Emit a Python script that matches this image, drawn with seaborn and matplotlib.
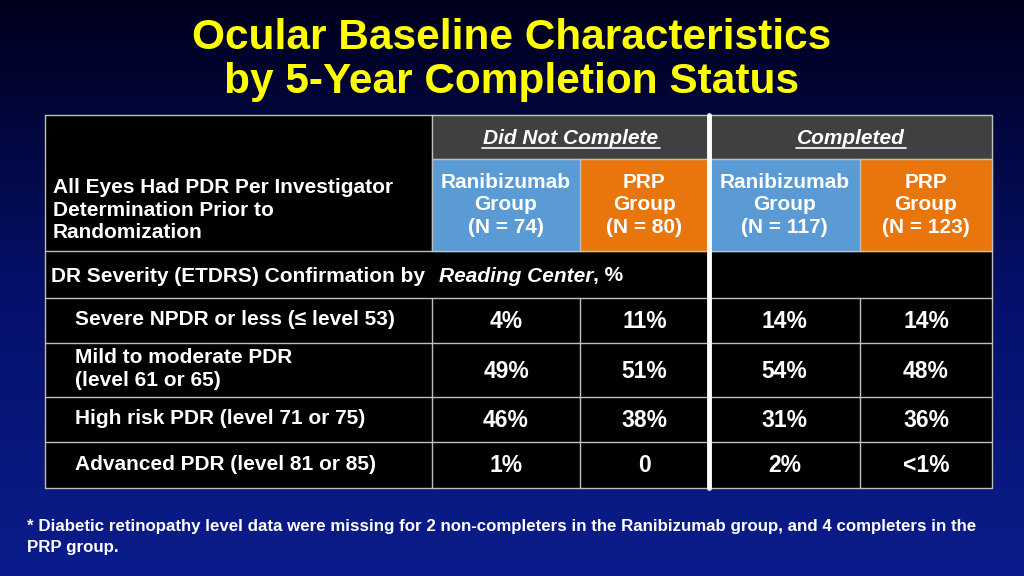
import numpy as np
import matplotlib
matplotlib.use("Agg")
import matplotlib.pyplot as plt
from matplotlib.patches import Rectangle
from matplotlib.colors import LinearSegmentedColormap
import seaborn as sns

sns.set_style("white")
plt.rcParams["font.family"] = "Liberation Sans"

title_lines = ["Ocular Baseline Characteristics", "by 5-Year Completion Status"]
groups = ["Did Not Complete", "Completed"]
arms = ["Ranibizumab\nGroup\n(N = 74)", "PRP\nGroup\n(N = 80)", "Ranibizumab\nGroup\n(N = 117)", "PRP\nGroup\n(N = 123)"]
row_labels = ["Severe NPDR or less (\u2264 level 53)", "Mild to moderate PDR\n(level 61 or 65)",
              "High risk PDR (level 71 or 75)", "Advanced PDR (level 81 or 85)"]
values = [["4%", "11%", "14%", "14%"],
          ["49%", "51%", "54%", "48%"],
          ["46%", "38%", "31%", "36%"],
          ["1%", "0", "2%", "<1%"]]
footnote = ("* Diabetic retinopathy level data were missing for 2 non-completers in the Ranibizumab group, and 4 completers in the\n"
            "PRP group.")

fig = plt.figure(figsize=(10.24, 5.76), dpi=100)
ax = fig.add_axes([0, 0, 1, 1])
grad = np.linspace(0, 1, 256)[:, None]
bg = LinearSegmentedColormap.from_list("bg", ["#00001c", "#05106a", "#0b1d8c"])
ax.imshow(grad, cmap=bg, extent=[0, 1024, 576, 0], aspect="auto")
ax.set_xlim(0, 1024); ax.set_ylim(576, 0); ax.axis("off")

ax.text(512, 38, title_lines[0], color="#ffff00", fontsize=30.5, fontweight="bold", ha="center", va="center")
ax.text(512, 82, title_lines[1], color="#ffff00", fontsize=30.5, fontweight="bold", ha="center", va="center")

cols = [432, 580, 709, 860, 992]
L = 45
rows = [298, 343, 397, 442, 488]
FS = 15
ax.add_patch(Rectangle((L, 115), 992 - L, 488 - 115, color="black", zorder=1))
ax.add_patch(Rectangle((432, 115), 992 - 432, 44, color="#404040", zorder=2))
arm_colors = ["#5b9bd5", "#e8760c", "#5b9bd5", "#e8760c"]
for i in range(4):
    ax.add_patch(Rectangle((cols[i], 159), cols[i + 1] - cols[i], 92, color=arm_colors[i], zorder=2))
    ax.text((cols[i] + cols[i + 1]) / 2, 205, arms[i], color="white", fontsize=FS, fontweight="bold",
            ha="center", va="center", linespacing=1.25, zorder=4)
for g, (a, b), hw in zip(groups, [(432, 709), (709, 992)], [89, 55]):
    ax.text((a + b) / 2, 138, g, color="white", fontsize=FS, fontweight="bold", style="italic",
            ha="center", va="center", zorder=4)
    ax.plot([(a + b) / 2 - hw, (a + b) / 2 + hw], [148, 148], color="white", lw=1.2, zorder=4)
ax.text(53, 210, "All Eyes Had PDR Per Investigator\nDetermination Prior to\nRandomization", color="white",
        fontsize=FS, fontweight="bold", ha="left", va="center", linespacing=1.25, zorder=4)
ax.text(51, 276, "DR Severity (ETDRS) Confirmation by ", color="white", fontsize=FS, fontweight="bold",
        ha="left", va="center", zorder=4)
ax.text(439, 276, "Reading Center", color="white", fontsize=FS, fontweight="bold", style="italic",
        ha="left", va="center", zorder=4)
ax.text(593, 276, ", %", color="white", fontsize=FS, fontweight="bold", ha="left", va="center", zorder=4)

for r in range(4):
    yc = (rows[r] + rows[r + 1]) / 2
    ax.text(75, yc - 1, row_labels[r], color="white", fontsize=FS, fontweight="bold", ha="left", va="center",
            linespacing=1.3, zorder=4)
    for c in range(4):
        ax.text((cols[c] + cols[c + 1]) / 2, yc + 1, values[r][c], color="white", fontsize=16.5, fontweight="bold",
                ha="center", va="center", zorder=4)

lc = "#bfbfbf"
for y in [115, 159, 251, 298, 343, 397, 442, 488]:
    x0 = 432 if y == 159 else L
    ax.plot([x0, 992], [y, y], color=lc, lw=1, zorder=3)
for x in [L, 992]:
    ax.plot([x, x], [115, 488], color=lc, lw=1, zorder=3)
ax.plot([432, 432], [115, 251], color=lc, lw=1, zorder=3)
for x in [432, 580, 860]:
    ax.plot([x, x], [298, 488], color=lc, lw=1, zorder=3)
ax.plot([580, 580], [159, 251], color=lc, lw=1, zorder=3)
ax.plot([860, 860], [159, 251], color=lc, lw=1, zorder=3)
ax.plot([709, 709], [115, 488], color="white", lw=3.5, zorder=3)

ax.text(27, 537, footnote, color="white", fontsize=12.2, fontweight="bold", ha="left", va="center",
        linespacing=1.45)

fig.savefig("out.png", dpi=100)
